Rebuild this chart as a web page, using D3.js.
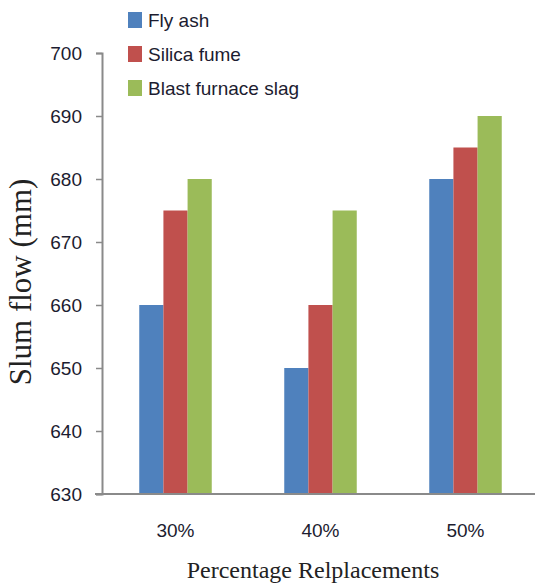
<!DOCTYPE html>
<html><head><meta charset="utf-8">
<script src="https://cdn.jsdelivr.net/npm/d3@7"></script>
<style>body{margin:0;background:#fff}svg{display:block}</style>
</head><body>
<script>
const categories = ["30%", "40%", "50%"];
const seriesNames = ["Fly ash", "Silica fume", "Blast furnace slag"];
const flyAsh = [660, 650, 680];
const silicaFume = [675, 660, 685];
const blastSlag = [680, 675, 690];
const yTicks = [630, 640, 650, 660, 670, 680, 690, 700];
const colors = ["#4F81BD", "#C0504D", "#9BBB59"];
const seriesValues = [flyAsh, silicaFume, blastSlag];

const W = 535, H = 588;
const svg = d3.select("body").append("svg").attr("width", W).attr("height", H);

const x0 = d3.scaleBand().domain(categories).range([103, 538]).paddingInner(0).paddingOuter(0);
const x1 = d3.scaleBand().domain(seriesNames).range([x0.bandwidth()*0.25, x0.bandwidth()*0.75]);
const y = d3.scaleLinear().domain([630, 700]).range([494, 53]);

// bars
const groups = svg.append("g").selectAll("g").data(categories).join("g")
  .attr("transform", d => `translate(${x0(d)},0)`);
groups.selectAll("rect").data((c, i) => seriesNames.map((s, j) => ({s, j, v: seriesValues[j][i]})))
  .join("rect")
  .attr("x", d => x1(d.s))
  .attr("width", x1.bandwidth())
  .attr("y", d => y(d.v))
  .attr("height", d => y(630) - y(d.v))
  .attr("fill", d => colors[d.j]);

// y axis
const yAxis = svg.append("g").attr("transform", "translate(102,0)")
  .call(d3.axisLeft(y).tickValues(yTicks).tickSize(6).tickPadding(14).tickFormat(d3.format("d")));
yAxis.select(".domain").attr("stroke", "#8a8a8a").attr("stroke-width", 2);
yAxis.selectAll(".tick line").attr("stroke", "#8a8a8a").attr("stroke-width", 1.5);
yAxis.selectAll(".tick text").attr("font-family", "Liberation Sans, Arial, sans-serif")
  .attr("font-size", 19).attr("fill", "#1c1c30");

// x axis
const xAxis = svg.append("g").attr("transform", "translate(0,494)")
  .call(d3.axisBottom(x0).tickSize(0).tickPadding(30));
xAxis.select(".domain").attr("d", "M95,0H535").attr("stroke", "#8a8a8a").attr("stroke-width", 2);
xAxis.selectAll(".tick text").attr("font-family", "Liberation Sans, Arial, sans-serif")
  .attr("font-size", 19).attr("fill", "#1c1c30");

// axis titles
svg.append("text").attr("transform", "translate(31,282) rotate(-90)")
  .attr("text-anchor", "middle").attr("font-family", "Liberation Serif, Times New Roman, serif")
  .attr("font-size", 31).attr("fill", "#222").text("Slum flow (mm)");
svg.append("text").attr("x", 313).attr("y", 578)
  .attr("text-anchor", "middle").attr("font-family", "Liberation Serif, Times New Roman, serif")
  .attr("font-size", 24).attr("fill", "#222").text("Percentage Relplacements");

// legend
const leg = svg.append("g").selectAll("g").data(seriesNames).join("g")
  .attr("transform", (d, i) => `translate(128,${12 + i*34})`);
leg.append("rect").attr("width", 14).attr("height", 16).attr("fill", (d, i) => colors[i]);
leg.append("text").attr("x", 20).attr("y", 15).attr("font-family", "Liberation Sans, Arial, sans-serif")
  .attr("font-size", 19).attr("fill", "#1c1c30").text(d => d);
</script>
</body></html>
